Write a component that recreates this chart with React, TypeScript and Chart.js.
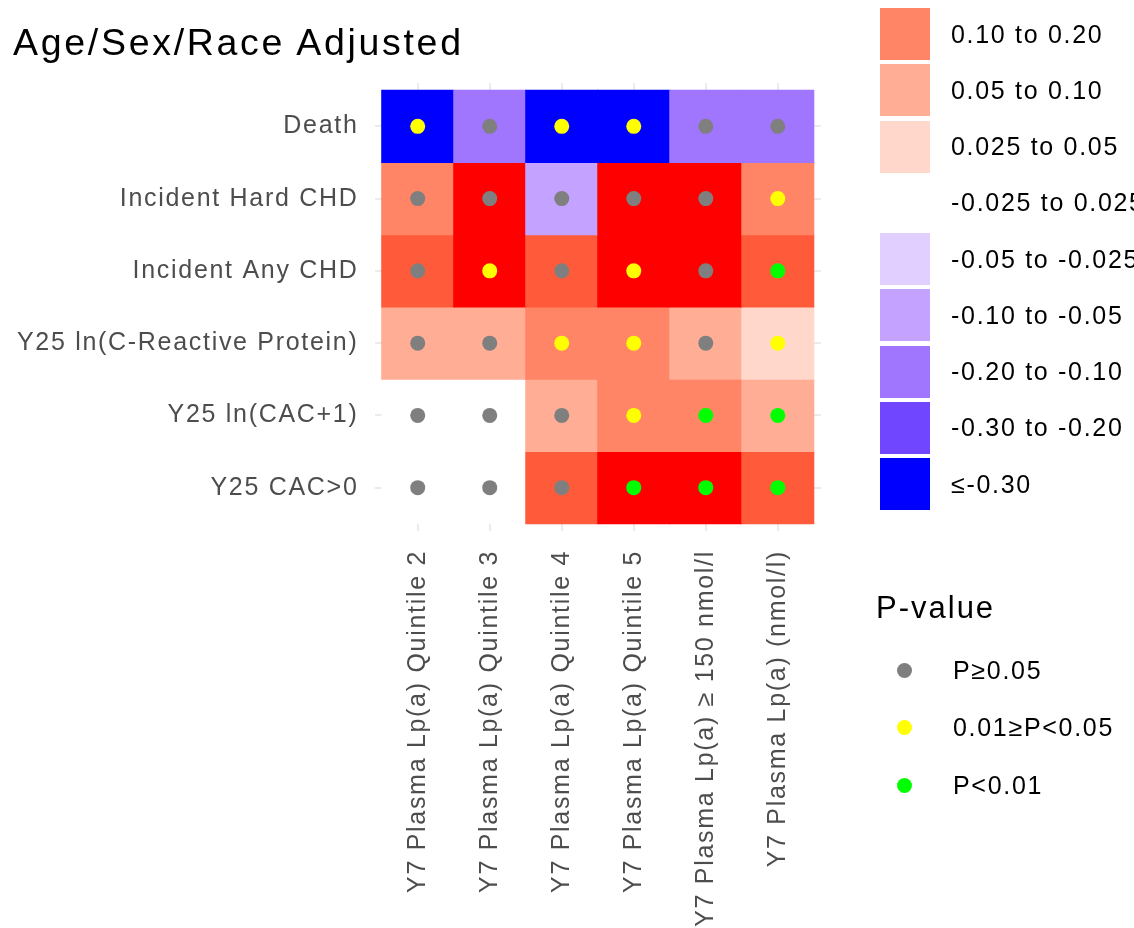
import React, { useEffect, useRef } from "react";
import { Chart, registerables } from "chart.js";

Chart.register(...registerables);

// ---------- data ----------
const outcomes = [
  "Death",
  "Incident Hard CHD",
  "Incident Any CHD",
  "Y25 ln(C-Reactive Protein)",
  "Y25 ln(CAC+1)",
  "Y25 CAC>0",
];

const exposures = [
  "Y7 Plasma Lp(a) Quintile 2",
  "Y7 Plasma Lp(a) Quintile 3",
  "Y7 Plasma Lp(a) Quintile 4",
  "Y7 Plasma Lp(a) Quintile 5",
  "Y7 Plasma Lp(a) \u2265 150 nmol/l",
  "Y7 Plasma Lp(a) (nmol/l)",
];

// estimated effect sizes (read from colour bins)
const deathEffect = [-0.35, -0.15, -0.35, -0.35, -0.15, -0.15];
const hardChdEffect = [0.15, 0.35, -0.07, 0.35, 0.35, 0.15];
const anyChdEffect = [0.25, 0.35, 0.25, 0.35, 0.35, 0.25];
const crpEffect = [0.07, 0.07, 0.15, 0.15, 0.07, 0.04];
const cacLnEffect = [0.01, 0.0, 0.07, 0.15, 0.15, 0.07];
const cacAnyEffect = [0.0, 0.01, 0.25, 0.35, 0.35, 0.25];

// p-value category: 0 = P>=0.05, 1 = 0.01<=P<0.05, 2 = P<0.01
const deathP = [1, 0, 1, 1, 0, 0];
const hardChdP = [0, 0, 0, 0, 0, 1];
const anyChdP = [0, 1, 0, 1, 0, 2];
const crpP = [0, 0, 1, 1, 0, 1];
const cacLnP = [0, 0, 0, 1, 2, 2];
const cacAnyP = [0, 0, 0, 2, 2, 2];

const effectRows = [deathEffect, hardChdEffect, anyChdEffect, crpEffect, cacLnEffect, cacAnyEffect];
const pRows = [deathP, hardChdP, anyChdP, crpP, cacLnP, cacAnyP];

// colour bins (lower bounds, top to bottom)
const binLower = [0.3, 0.2, 0.1, 0.05, 0.025, -0.025, -0.05, -0.1, -0.2, -0.3, -Infinity];
const binColors = [
  "#FF0000",
  "#FF5B3B",
  "#FF8566",
  "#FFAD94",
  "#FFD7CB",
  "#FFFFFF",
  "#E1D0FF",
  "#C3A3FF",
  "#A176FF",
  "#7047FF",
  "#0000FF",
];
const legendLabels = [
  "0.10 to 0.20",
  "0.05 to 0.10",
  "0.025 to 0.05",
  "-0.025 to 0.025",
  "-0.05 to -0.025",
  "-0.10 to -0.05",
  "-0.20 to -0.10",
  "-0.30 to -0.20",
  "\u2264-0.30",
];
const legendColors = binColors.slice(2);

const pLabels = ["P\u22650.05", "0.01\u2265P<0.05", "P<0.01"];
const pColors = ["#7F7F7F", "#FFFF00", "#00FF00"];

function colorFor(v: number): string {
  for (let i = 0; i < binLower.length; i++) {
    if (v >= binLower[i]) return binColors[i];
  }
  return binColors[binColors.length - 1];
}

const FONT = '"Liberation Sans", Arial, Helvetica, sans-serif';
const SPACING = "1.7px";

const spacingPlugin = {
  id: "letterSpacing",
  beforeLayout(chart: any) {
    chart.ctx.letterSpacing = SPACING;
  },
  beforeDraw(chart: any) {
    chart.ctx.letterSpacing = SPACING;
  },
};

export default function App() {
  const canvasRef = useRef<HTMLCanvasElement | null>(null);

  useEffect(() => {
    const n = outcomes.length;
    const datasets: any[] = [];
    outcomes.forEach((name, i) => {
      const r = n - i;
      datasets.push({
        type: "bar",
        label: name,
        data: exposures.map((_, j) => ({ x: j + 1, y: [r - 0.5, r + 0.5] })),
        backgroundColor: effectRows[i].map(colorFor),
        borderWidth: 0,
        barPercentage: 1,
        categoryPercentage: 1,
        grouped: false,
        inflateAmount: 0.5,
        order: 2,
      });
    });
    outcomes.forEach((name, i) => {
      const r = n - i;
      datasets.push({
        type: "scatter",
        label: name + " p",
        data: exposures.map((_, j) => ({ x: j + 1, y: r })),
        pointBackgroundColor: pRows[i].map((k) => pColors[k]),
        pointBorderWidth: 0,
        pointRadius: 7.5,
        pointHoverRadius: 7.5,
        order: 1,
      });
    });

    const tickFont = { family: FONT, size: 25 };

    const chart = new Chart(canvasRef.current as HTMLCanvasElement, {
      type: "bar",
      data: { datasets },
      plugins: [spacingPlugin],
      options: {
        animation: false,
        responsive: false,
        devicePixelRatio: 1,
        layout: { padding: { top: 83, right: 313, left: 0, bottom: 0 } },
        plugins: {
          legend: { display: false },
          tooltip: { enabled: false },
          title: { display: false },
        },
        scales: {
          x: {
            type: "linear",
            offset: false,
            min: 0.4,
            max: 6.6,
            afterBuildTicks: (s: any) => {
              s.ticks = exposures.map((_, j) => ({ value: j + 1 }));
            },
            afterFit: (s: any) => {
              s.height = 397;
            },
            ticks: {
              autoSkip: false,
              minRotation: 90,
              maxRotation: 90,
              padding: 19,
              color: "#4D4D4D",
              font: tickFont,
              callback: (v: any) => exposures[Math.round(v) - 1] ?? "",
            },
            grid: { color: "#EBEBEB", lineWidth: 2, drawTicks: false, offset: false },
            border: { display: false },
          },
          y: {
            type: "linear",
            offset: false,
            min: 0.4,
            max: 6.6,
            afterBuildTicks: (s: any) => {
              s.ticks = outcomes.map((_, i) => ({ value: i + 1 }));
            },
            afterFit: (s: any) => {
              s.width = 374.5;
            },
            ticks: {
              autoSkip: false,
              padding: 16,
              color: "#4D4D4D",
              font: tickFont,
              callback: (v: any) => outcomes[n - Math.round(v)] ?? "",
            },
            grid: { color: "#EBEBEB", lineWidth: 2, drawTicks: false, offset: false },
            border: { display: false },
          },
        },
      } as any,
    });
    return () => chart.destroy();
  }, []);

  const textStyle: React.CSSProperties = {
    fontFamily: FONT,
    fontSize: 25,
    letterSpacing: SPACING,
    color: "#000",
    whiteSpace: "nowrap",
  };

  return (
    <div
      style={{
        position: "fixed",
        left: 0,
        top: 0,
        width: 1134,
        height: 928,
        overflow: "hidden",
        background: "#fff",
      }}
    >
      <canvas ref={canvasRef} width={1134} height={928} style={{ position: "absolute", left: 0, top: 0 }} />
      <div
        style={{
          position: "absolute",
          left: 13,
          top: 24,
          fontFamily: FONT,
          fontSize: 37.5,
          lineHeight: 1,
          letterSpacing: "2.7px",
          color: "#000",
          whiteSpace: "nowrap",
        }}
      >
        Age/Sex/Race Adjusted
      </div>
      {legendLabels.map((lab, i) => (
        <div
          key={lab}
          style={{
            position: "absolute",
            left: 880,
            top: 8 + i * 56.25,
            height: 52,
            display: "flex",
            alignItems: "center",
          }}
        >
          <div style={{ width: 50, height: 52, background: legendColors[i] }} />
          <div style={{ ...textStyle, marginLeft: 21 }}>{lab}</div>
        </div>
      ))}
      <div
        style={{
          position: "absolute",
          left: 876,
          top: 591,
          fontFamily: FONT,
          fontSize: 31,
          lineHeight: "34px",
          letterSpacing: "2px",
          color: "#000",
          whiteSpace: "nowrap",
        }}
      >
        P-value
      </div>
      {pLabels.map((lab, i) => (
        <div
          key={lab}
          style={{
            position: "absolute",
            left: 880,
            top: 670 + i * 57.5 - 20,
            height: 40,
            display: "flex",
            alignItems: "center",
          }}
        >
          <div style={{ width: 48, height: 40, position: "relative" }}>
            <div
              style={{
                position: "absolute",
                left: 16.5,
                top: 12.5,
                width: 15,
                height: 15,
                borderRadius: "50%",
                background: pColors[i],
              }}
            />
          </div>
          <div style={{ ...textStyle, marginLeft: 25 }}>{lab}</div>
        </div>
      ))}
    </div>
  );
}
